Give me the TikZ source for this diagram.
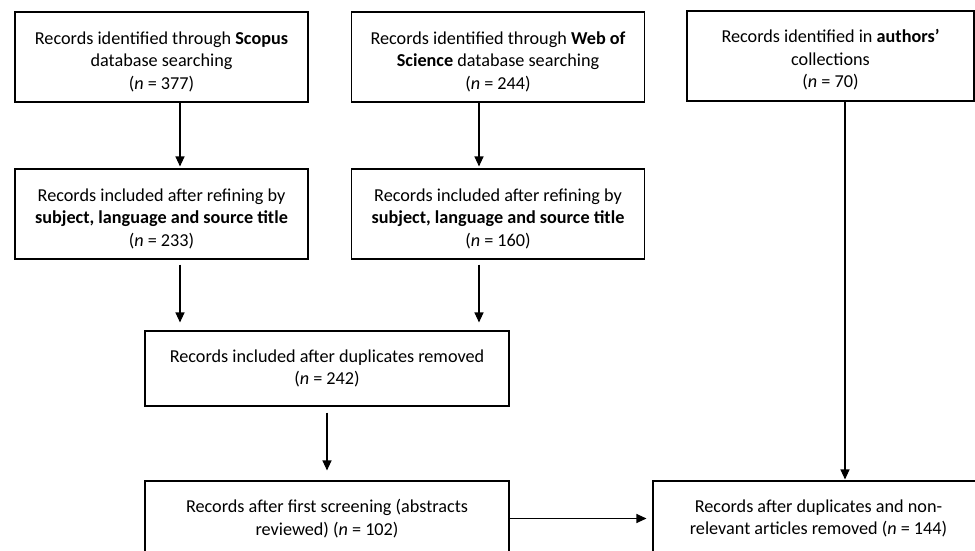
\documentclass[tikz,border=0pt]{standalone}
\usepackage{fontspec}
\setmainfont{Carlito}
\usetikzlibrary{arrows.meta}
\begin{document}
\begin{tikzpicture}[x=1pt,y=-1pt,
        rec/.style={draw, line width=1.1pt, align=center, inner sep=0pt, font=\fontsize{18.2}{22.5}\selectfont},
        low/.style={text height=66pt, text depth=2pt},
        arr/.style={line width=1.1pt, -{Triangle[length=10pt,width=9pt]}}]
            \def\bw{293pt}
            \def\bh{90pt}
            \useasboundingbox (0,0) rectangle (975,551);
            \clip (0,0) rectangle (975,551);
            \node[rec, low, minimum width=\bw, minimum height=\bh] (scopus) at (161.5,57) {Records identified through \textbf{Scopus}\\database searching\\(\textit{n} = 377)};
            \node[rec, low, minimum width=\bw, minimum height=\bh] (wos) at (498,57) {Records identified through \textbf{Web of}\\\textbf{Science} database searching\\(\textit{n} = 244)};
            \node[rec, low, minimum width=287pt, minimum height=\bh] (authors) at (830.5,56) {Records identified in \textbf{authors'}\\collections\\(\textit{n} = 70)};
            \node[rec, low, minimum width=\bw, minimum height=\bh] (scopusref) at (161.5,214) {Records included after refining by\\\textbf{subject, language and source title}\\(\textit{n} = 233)};
            \node[rec, low, minimum width=\bw, minimum height=\bh] (wosref) at (498,214) {Records included after refining by\\\textbf{subject, language and source title}\\(\textit{n} = 160)};
            \node[rec, minimum width=364pt, minimum height=75pt] (dupl) at (327,368.5) {Records included after duplicates removed\\(\textit{n} = 242)};
            \node[rec, minimum width=364pt, minimum height=75pt] (screen) at (327,518.5) {Records after first screening (abstracts\\reviewed) (\textit{n} = 102)};
            \node[rec, minimum width=331pt, minimum height=75pt] (final) at (818.5,518.5) {Records after duplicates and non-\\relevant articles removed (\textit{n} = 144)};
            \coordinate (xl) at (180,0);
            \coordinate (xm) at (479,0);
            \coordinate (xr) at (845,0);
            \draw[arr] (scopus.south -| xl) -- ([yshift=2pt]scopusref.north -| xl);
            \draw[arr] (wos.south -| xm) -- ([yshift=2pt]wosref.north -| xm);
            \draw[arr] ([yshift=-5pt]scopusref.south -| xl) -- ([yshift=8pt]dupl.north -| xl);
            \draw[arr] ([yshift=-5pt]wosref.south -| xm) -- ([yshift=8pt]dupl.north -| xm);
            \draw[arr] ([yshift=-6pt]dupl.south) -- ([yshift=10pt]screen.north);
            \draw[arr] (authors.south -| xr) -- ([yshift=1pt]final.north -| xr);
            \draw[arr] (screen.east) -- ([xshift=-6pt]final.west);
        \end{tikzpicture}
\end{document}
